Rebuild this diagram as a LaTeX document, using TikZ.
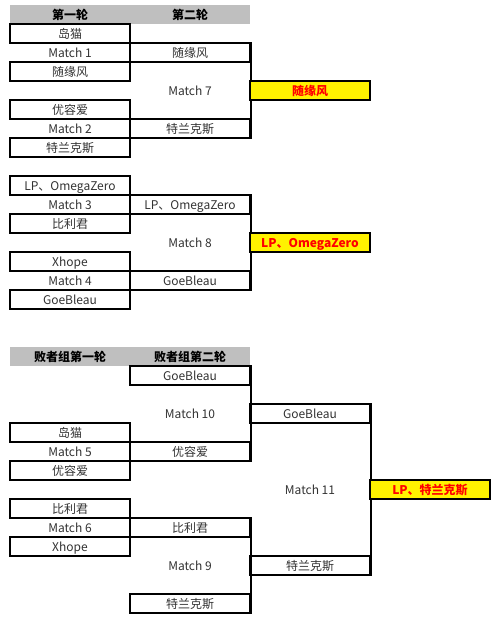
\documentclass[tikz,border=0pt]{standalone}
\usepackage{fontspec}
\setmainfont{Noto Sans CJK SC}
\definecolor{headgray}{RGB}{191,191,191}
\definecolor{textgray}{RGB}{50,50,50}
\tikzset{
  cell/.style={minimum width=120pt, minimum height=19pt, inner sep=0pt,
    text height=10.8pt, text depth=0pt,
    text=textgray, font=\fontsize{12}{12}\selectfont},
  cellbox/.style={cell, draw=black, line width=1.6pt},
  header/.style={cell, fill=headgray, text=black, font=\fontsize{12}{12}\selectfont\bfseries},
  winner/.style={cellbox, fill=yellow, text=red, font=\fontsize{12}{12}\selectfont\bfseries},
  bracket/.style={draw=black, line width=1.6pt}
}
\begin{document}
\begin{tikzpicture}[x=1pt, y=-1pt]
  \useasboundingbox (0,0) rectangle (500,617);

  % Headers (winners)
  \node[header] (h1) at (70,14.5) {第一轮};
  \node[header] (h2) at (190,14.5) {第二轮};

  % First round, upper half
  \node[cellbox] (p1) at (70,33.5) {岛猫};
  \node[cell] (m1) at (70,52.5) {Match 1};
  \node[cellbox] (p2) at (70,71.5) {随缘风};
  \node[cellbox] (p3) at (70,109.5) {优容爱};
  \node[cell] (m2) at (70,128.5) {Match 2};
  \node[cellbox] (p4) at (70,147.5) {特兰克斯};

  % First round, lower half
  \node[cellbox] (p5) at (70,185.5) {LP、OmegaZero};
  \node[cell] (m3) at (70,204.5) {Match 3};
  \node[cellbox] (p6) at (70,223.5) {比利君};
  \node[cellbox] (p7) at (70,261.5) {Xhope};
  \node[cell] (m4) at (70,280.5) {Match 4};
  \node[cellbox] (p8) at (70,299.5) {GoeBleau};

  % Second round
  \node[cellbox] (w1) at (190,52.5) {随缘风};
  \node[cell] (m7) at (190,90.5) {Match 7};
  \node[cellbox] (w2) at (190,128.5) {特兰克斯};
  \draw[bracket] (w1.north east) -- (w2.south east);

  \node[cellbox] (w3) at (190,204.5) {LP、OmegaZero};
  \node[cell] (m8) at (190,242.5) {Match 8};
  \node[cellbox] (w4) at (190,280.5) {GoeBleau};
  \draw[bracket] (w3.north east) -- (w4.south east);

  % Winners
  \node[winner] (f1) at (310,90.5) {随缘风};
  \node[winner] (f2) at (310,242.5) {LP、OmegaZero};

  % Headers (losers)
  \node[header] (h3) at (70,356.5) {败者组第一轮};
  \node[header] (h4) at (190,356.5) {败者组第二轮};

  % Losers first round
  \node[cellbox] (q1) at (70,432.5) {岛猫};
  \node[cell] (m5) at (70,451.5) {Match 5};
  \node[cellbox] (q2) at (70,470.5) {优容爱};
  \node[cellbox] (q3) at (70,508.5) {比利君};
  \node[cell] (m6) at (70,527.5) {Match 6};
  \node[cellbox] (q4) at (70,546.5) {Xhope};

  % Losers second round
  \node[cellbox] (v1) at (190,375.5) {GoeBleau};
  \node[cell] (m10) at (190,413.5) {Match 10};
  \node[cellbox] (v2) at (190,451.5) {优容爱};
  \draw[bracket] (v1.north east) -- (v2.south east);

  \node[cellbox] (v3) at (190,527.5) {比利君};
  \node[cell] (m9) at (190,565.5) {Match 9};
  \node[cellbox] (v4) at (190,603.5) {特兰克斯};
  \draw[bracket] (v3.north east) -- (v4.south east);

  % Losers final
  \node[cellbox] (u1) at (310,413.5) {GoeBleau};
  \node[cell] (m11) at (310,489.5) {Match 11};
  \node[cellbox] (u2) at (310,565.5) {特兰克斯};
  \draw[bracket] (u1.north east) -- (u2.south east);

  \node[winner] (f3) at (430,489.5) {LP、特兰克斯};

\end{tikzpicture}
\end{document}
